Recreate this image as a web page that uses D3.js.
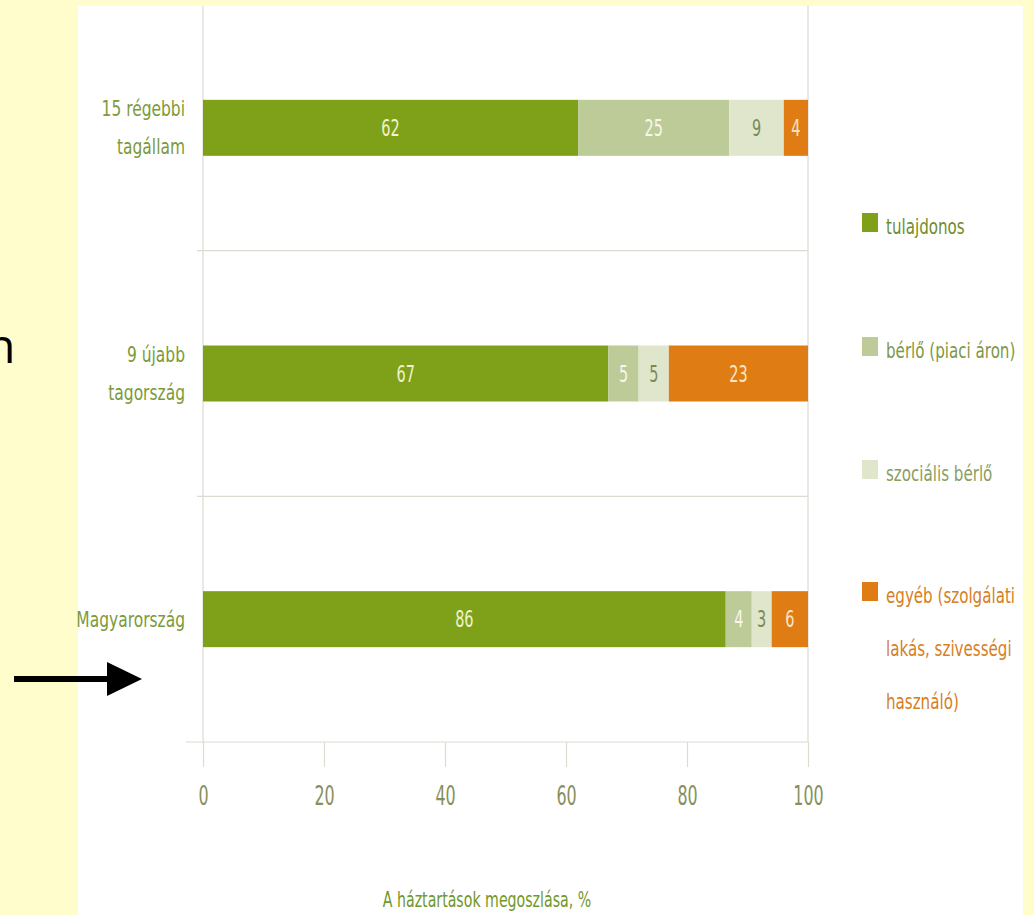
<!DOCTYPE html>
<html>
  <head>
    <meta charset="utf-8">
    <style type="text/css">
      body { margin:0; background:#fffdcc; }
      svg text { font-family:"DejaVu Sans Condensed","DejaVu Sans",sans-serif; }
      .grid { stroke:#dcdcd2; stroke-width:1.2px; }
    </style>
  </head>
  <body>
    <div id="canvas"></div>

    <script src="https://cdn.jsdelivr.net/npm/d3@7"></script>
    <script type="text/javascript">

    // data
    var categories = ["15 régebbi tagállam", "9 újabb tagország", "Magyarország"];
    var tulajdonos = [62, 67, 86.4];
    var berloPiaci = [25, 5, 4.3];
    var szocialis  = [9, 5, 3.3];
    var egyeb      = [4, 23, 6];
    var seriesNames = ["tulajdonos", "bérlő (piaci áron)", "szociális bérlő", "egyéb (szolgálati lakás, szivességi használó)"];
    var xTicks = [0, 20, 40, 60, 80, 100];
    var axisTitle = "A háztartások megoszlása, %";

    var width = 1034, height = 915;
    var barColors   = ["#7fa11a", "#bccb98", "#dfe6cb", "#e07c14"];
    var labelColors = ["#eef3cc", "#f6f8ec", "#7b8a58", "#fbe6c4"];
    var legendColors = ["#6f8d2c", "#7f9748", "#8a9e62", "#d6801f"];

    (function() {
      var keys = ["t", "b", "s", "e"];
      var rows = categories.map(function (c, i) {
        return {cat: c, t: tulajdonos[i], b: berloPiaci[i], s: szocialis[i], e: egyeb[i]};
      });
      var stacked = d3.stack().keys(keys)(rows);

      var svg = d3.select('#canvas').append('svg')
                  .attr('width', width)
                  .attr('height', height);

      // narrow text: squeeze glyphs horizontally
      var narrowText = function (parent, x, y, sx, size) {
        return parent.append('text')
                     .attr('transform', 'translate(' + x + ',' + y + ') scale(' + sx + ',1)')
                     .style('font-size', size + 'px');
      };

      // white slide panel
      svg.append('rect').attr('x', 78).attr('y', 6).attr('width', 945).attr('height', height - 6)
         .attr('fill', '#ffffff');

      var x = d3.scaleLinear().domain([0, 100]).range([203, 808]);
      var y = d3.scaleBand().domain(categories).range([5, 742]);
      var barH = 56;

      // frame: separators between groups, left and right edge
      categories.forEach(function (c, i) {
        if (i > 0) {
          svg.append('line').attr('class', 'grid')
             .attr('x1', 197).attr('x2', x(100))
             .attr('y1', y(c)).attr('y2', y(c));
        }
      });
      svg.append('line').attr('class', 'grid')
         .attr('x1', x(100)).attr('x2', x(100)).attr('y1', 6).attr('y2', 742);
      svg.append('line').attr('class', 'grid')
         .attr('x1', x(0)).attr('x2', x(0)).attr('y1', 6).attr('y2', 742);

      // bottom axis
      var xAxis = d3.axisBottom(x).tickValues(xTicks).tickSize(25).tickPadding(20).tickFormat(d3.format('d'));
      var gx = svg.append('g').attr('transform', 'translate(0,742)').call(xAxis);
      gx.select('.domain').attr('stroke', '#dcdcd2').attr('stroke-width', 1.2)
        .attr('d', 'M186,0H' + x(100));
      gx.selectAll('.tick line').attr('stroke', '#dcdcd2').attr('stroke-width', 1.2);
      gx.selectAll('.tick text').attr('fill', '#87905c')
        .attr('transform', 'scale(0.68,1)')
        .style('font-size', '26px')
        .style('font-family', '"DejaVu Sans Condensed",sans-serif');

      narrowText(svg, 487, 907, 0.75, 21).attr('text-anchor', 'middle')
         .attr('fill', '#72972a').text(axisTitle);

      // bars
      var groups = svg.selectAll('g.series').data(stacked).enter().append('g')
                      .attr('class', 'series');
      groups.each(function (s, si) {
        var g = d3.select(this);
        g.selectAll('rect').data(s).enter().append('rect')
         .attr('x', function (d) { return x(d[0]); })
         .attr('width', function (d) { return x(d[1]) - x(d[0]); })
         .attr('y', function (d) { return y(d.data.cat) + y.bandwidth() / 2 - barH / 2; })
         .attr('height', barH)
         .attr('fill', barColors[si]);

        s.forEach(function (d) {
          narrowText(g, (x(d[0]) + x(d[1])) / 2, y(d.data.cat) + y.bandwidth() / 2, 0.7, 23)
            .attr('dy', '0.36em')
            .attr('text-anchor', 'middle')
            .attr('fill', labelColors[si])
            .text(Math.round(d[1] - d[0]));
        });
      });

      // category labels
      categories.forEach(function (c) {
        var words = c === "Magyarország" ? [c] : [c.split(' ').slice(0, -1).join(' '), c.split(' ').slice(-1)[0]];
        var cy = y(c) + y.bandwidth() / 2;
        var t = narrowText(svg, 185, 0, 0.82, 21).attr('text-anchor', 'end').attr('fill', '#7c9a3a');
        words.forEach(function (w, k) {
          t.append('tspan').attr('x', 0)
           .attr('y', cy + (k - (words.length - 1) / 2) * 38)
           .attr('dy', '0.35em').text(w);
        });
      });

      // legend
      var legendY = [223, 347, 470, 592];
      var legendLines = [["tulajdonos"], ["bérlő (piaci áron)"], ["szociális bérlő"],
                         ["egyéb (szolgálati", "lakás, szivességi", "használó)"]];
      seriesNames.forEach(function (name, i) {
        svg.append('rect').attr('x', 862).attr('y', legendY[i] - 10).attr('width', 16).attr('height', 19)
           .attr('fill', barColors[i]);
        legendLines[i].forEach(function (line, k) {
          narrowText(svg, 886, legendY[i] + 4 + k * 53, 0.8, 21)
             .attr('dy', '0.35em').attr('fill', legendColors[i]).text(line);
        });
      });

      // leftover slide bits: letter fragment and arrow
      svg.append('text').attr('x', -14).attr('y', 363).attr('fill', '#000')
         .style('font-family', '"Open Sans",sans-serif').style('font-size', '48px').text('n');
      svg.append('line').attr('x1', 14).attr('x2', 110).attr('y1', 679).attr('y2', 679)
         .attr('stroke', '#000').attr('stroke-width', 6);
      svg.append('path').attr('d', 'M107,662L142,679L107,696Z').attr('fill', '#000');
    })();
    </script>
  </body>
</html>
